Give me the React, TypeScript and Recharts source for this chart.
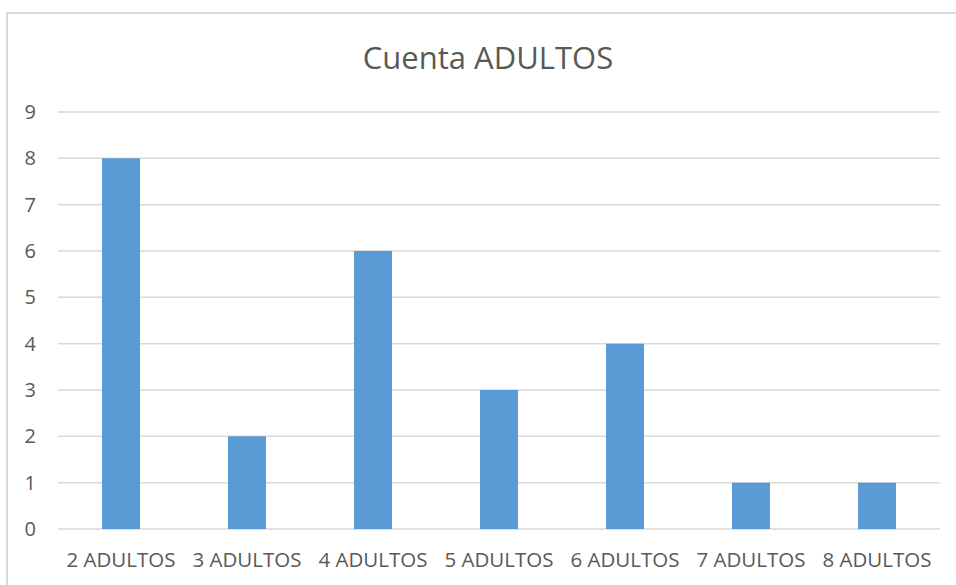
import { BarChart, Bar, XAxis, YAxis, CartesianGrid } from "recharts";

const categories = ["2 ADULTOS", "3 ADULTOS", "4 ADULTOS", "5 ADULTOS", "6 ADULTOS", "7 ADULTOS", "8 ADULTOS"];
const counts = [8, 2, 6, 3, 4, 1, 1];
const yTicks = [0, 1, 2, 3, 4, 5, 6, 7, 8, 9];

const data = categories.map((name, i) => ({ name, value: counts[i] }));

const font = "'Open Sans', 'Noto Sans', sans-serif";
const textColor = "#595959";

export default function App() {
  return (
    <div style={{ position: "absolute", left: 0, top: 0, width: 956, height: 585, background: "#fff", overflow: "hidden", fontFamily: font }}>
      <div style={{ position: "absolute", left: 6, top: 12, width: 1000, height: 700, borderTop: "2px solid #d9d9d9", borderLeft: "2px solid #d9d9d9" }} />
      <div style={{ position: "absolute", left: 288, width: 400, top: 37, textAlign: "center", fontSize: 31, color: textColor, lineHeight: "40px" }}>
        Cuenta ADULTOS
      </div>
      <div style={{ position: "absolute", left: 0, top: 0 }}>
        <BarChart width={956} height={585} data={data} margin={{ top: 112, right: 16, left: 0, bottom: 0 }}>
          <CartesianGrid vertical={false} stroke="#d9d9d9" strokeWidth={1.5} />
          <XAxis dataKey="name" height={56} axisLine={false} tickLine={false} tickMargin={17}
            tick={{ fill: textColor, fontSize: 20.5, fontFamily: font }} interval={0} />
          <YAxis width={58} domain={[0, 9]} ticks={yTicks} axisLine={false} tickLine={false} tickMargin={16}
            tick={{ fill: textColor, fontSize: 20, fontFamily: font }} />
          <Bar dataKey="value" fill="#5b9bd5" barSize={38} isAnimationActive={false} />
        </BarChart>
      </div>
    </div>
  );
}
